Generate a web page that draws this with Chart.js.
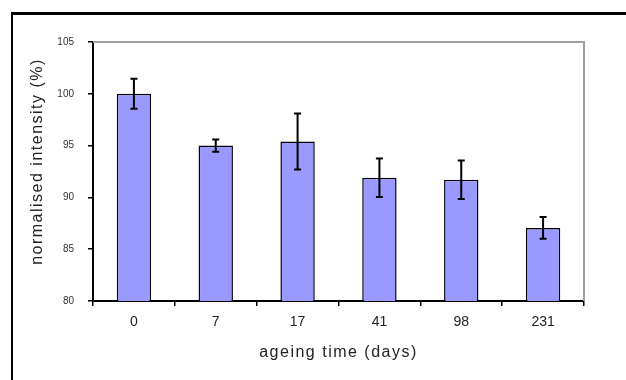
<!DOCTYPE html>
<html>
<head>
<meta charset="utf-8">
<script src="https://cdn.jsdelivr.net/npm/chart.js@4/dist/chart.umd.min.js"></script>
<style>
  html, body { margin: 0; padding: 0; background: #fff; }
  #wrap { position: relative; width: 626px; height: 380px; overflow: hidden; }
  #frame {
    position: absolute; left: 11px; top: 12px; width: 640px; height: 400px;
    border-top: 3px solid #000; border-left: 2px solid #000; pointer-events: none;
  }
</style>
</head>
<body>
<div id="wrap">
  <canvas id="myChart" width="626" height="380"></canvas>
  <div id="frame"></div>
</div>
<script>
// ageing time categories (days)
const days = ['0', '7', '17', '41', '98', '231'];
// mean normalised intensity (%)
const intensity = [100, 95, 95.4, 91.9, 91.7, 87.05];
// error bar half-widths (%)
const errors = [1.45, 0.6, 2.7, 1.85, 1.85, 1.05];
const yTicks = [80, 85, 90, 95, 100, 105];

const fontFamily = '"Liberation Sans", Arial, sans-serif';

// grey top/right border of plot area
const plotBorder = {
    id: 'plotBorder',
    beforeDatasetsDraw(chart) {
        const { ctx, chartArea: a } = chart;
        ctx.save();
        ctx.strokeStyle = '#a0a0a0';
        ctx.lineWidth = 2;
        ctx.beginPath();
        ctx.moveTo(a.left, a.top);
        ctx.lineTo(a.right, a.top);
        ctx.lineTo(a.right, a.bottom);
        ctx.stroke();
        ctx.restore();
    }
};

// wide-spaced axis titles like the original
const spacedTitles = {
    id: 'spacedTitles',
    afterLayout(chart) {
        const opts = { x: { spacing: '1.5px', dy: 0 }, y: { spacing: '1.5px', dy: -10 } };
        Object.keys(opts).forEach((id) => {
            const scale = chart.scales[id];
            if (scale._origDrawTitle) return;
            scale._origDrawTitle = scale.drawTitle;
            scale.drawTitle = function () {
                const c = this.ctx;
                c.save();
                c.letterSpacing = opts[id].spacing;
                c.translate(0, opts[id].dy);
                this._origDrawTitle();
                c.restore();
            };
        });
    }
};

const errorBars = {
    id: 'errorBars',
    afterDatasetsDraw(chart) {
        const { ctx } = chart;
        const y = chart.scales.y;
        const meta = chart.getDatasetMeta(0);
        ctx.save();
        ctx.strokeStyle = '#000';
        ctx.lineWidth = 2;
        meta.data.forEach((bar, i) => {
            const hi = y.getPixelForValue(intensity[i] + errors[i]);
            const lo = y.getPixelForValue(intensity[i] - errors[i]);
            ctx.beginPath();
            ctx.moveTo(bar.x, hi);
            ctx.lineTo(bar.x, lo);
            ctx.moveTo(bar.x - 3.5, hi);
            ctx.lineTo(bar.x + 3.5, hi);
            ctx.moveTo(bar.x - 3.5, lo);
            ctx.lineTo(bar.x + 3.5, lo);
            ctx.stroke();
        });
        ctx.restore();
    }
};

const ctx = document.getElementById('myChart');
new Chart(ctx, {
    type: 'bar',
    data: {
        labels: days,
        datasets: [{
            data: intensity,
            backgroundColor: '#9999ff',
            borderColor: '#000',
            borderWidth: 1.5,
            barPercentage: 0.42,
            categoryPercentage: 1
        }]
    },
    options: {
        responsive: false,
        animation: false,
        devicePixelRatio: 1,
        layout: { padding: { left: 12, top: 42, right: 42, bottom: 0 } },
        plugins: {
            legend: { display: false },
            tooltip: { enabled: false }
        },
        scales: {
            x: {
                offset: true,
                grid: { offset: true, drawOnChartArea: false, drawTicks: true, tickLength: 5, color: '#000', lineWidth: 1.5 },
                border: { color: '#000', width: 2 },
                ticks: { color: '#222', font: { family: fontFamily, size: 14 }, padding: 8, maxRotation: 0 },
                title: {
                    display: true,
                    text: 'ageing time (days)',
                    color: '#222',
                    font: { family: fontFamily, size: 16 },
                    padding: { top: 0, bottom: 18 }
                },
                afterFit(scale) { scale.height = 79; }
            },
            y: {
                min: 80,
                max: 105,
                afterBuildTicks(scale) { scale.ticks = yTicks.map(v => ({ value: v })); },
                grid: { drawOnChartArea: false, drawTicks: true, tickLength: 5, color: '#000', lineWidth: 1.5 },
                border: { color: '#000', width: 2 },
                ticks: { color: '#333', font: { family: fontFamily, size: 10 }, padding: 14 },
                title: {
                    display: true,
                    text: 'normalised intensity (%)',
                    color: '#222',
                    font: { family: fontFamily, size: 16 },
                    padding: { top: 16, bottom: 0 }
                },
                afterFit(scale) { scale.width = 81; }
            }
        }
    },
    plugins: [plotBorder, spacedTitles, errorBars]
});
</script>
</body>
</html>
